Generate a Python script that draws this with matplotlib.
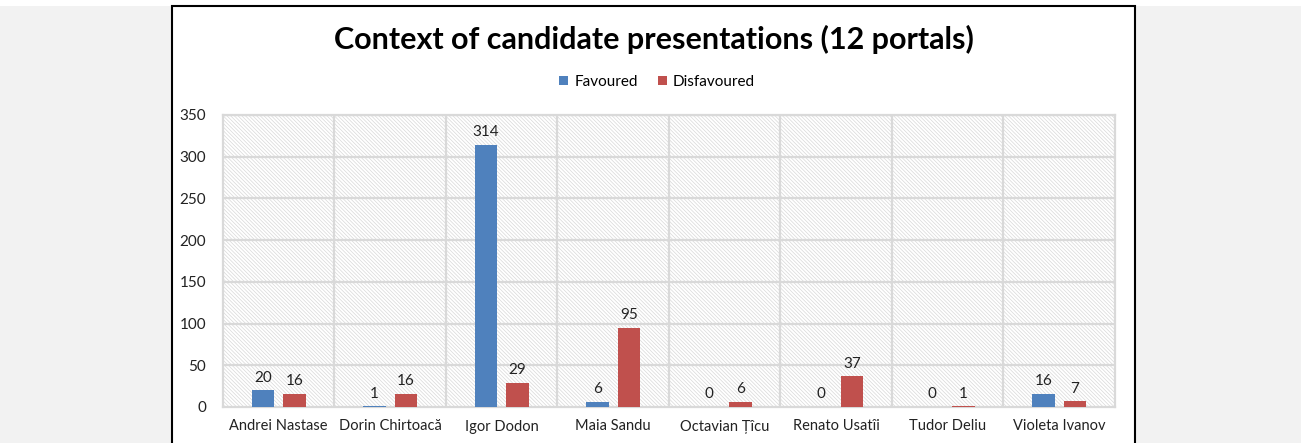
import matplotlib
matplotlib.use("Agg")
import matplotlib.pyplot as plt
import numpy as np
from matplotlib.patches import Rectangle

candidates = ["Andrei Nastase", "Dorin Chirtoacă", "Igor Dodon", "Maia Sandu",
              "Octavian Țîcu", "Renato Usatîi", "Tudor Deliu", "Violeta Ivanov"]
favoured = [20, 1, 314, 6, 0, 0, 0, 16]
disfavoured = [16, 16, 29, 95, 6, 37, 1, 7]
y_ticks = [0, 50, 100, 150, 200, 250, 300, 350]

BLUE = "#4f81bd"
RED = "#c0504d"
GRID = "#d9d9d9"

plt.rcParams["font.family"] = ["Lato", "DejaVu Sans"]
plt.rcParams["hatch.linewidth"] = 0.5

W, H = 1307, 443
fig = plt.figure(figsize=(W / 100, H / 100), dpi=100)
fig.patch.set_facecolor("white")

# grey page behind the chart box
fig.add_artist(Rectangle((0, 0), 1301 / W, 437 / H, transform=fig.transFigure,
                         facecolor="#f2f2f2", edgecolor="none", zorder=-3))
# chart box with black frame
fig.add_artist(Rectangle((172 / W, -0.05), (1135 - 172) / W, 1.05 - 6 / H,
                         transform=fig.transFigure, facecolor="white",
                         edgecolor="black", linewidth=1.5, zorder=-2))

ax = fig.add_axes([223 / W, 36 / H, 892 / W, 292 / H])
ax.set_facecolor("white")
ax.add_patch(Rectangle((0, 0), 1, 1, transform=ax.transAxes, facecolor="white",
                       edgecolor="#d8d8d8", hatch="\\" * 9, linewidth=0, zorder=0))

x = np.arange(len(candidates))
w = 0.2
off = 0.14
b1 = ax.bar(x - off, favoured, w, color=BLUE, label="Favoured", zorder=3)
b2 = ax.bar(x + off, disfavoured, w, color=RED, label="Disfavoured", zorder=3)
ax.bar_label(b1, padding=4, fontsize=11, color="#222222")
ax.bar_label(b2, padding=4, fontsize=11, color="#222222")

ax.set_xlim(-0.5, len(candidates) - 0.5)
ax.set_ylim(0, 350)
ax.set_yticks(y_ticks)
ax.set_xticks(x)
ax.set_xticklabels(candidates)
ax.tick_params(axis="both", length=0, labelsize=10.5, colors="#222222")
ax.tick_params(axis="y", labelsize=11, pad=12)
ax.tick_params(axis="x", pad=9)

for yv in y_ticks[1:]:
    ax.axhline(yv, color=GRID, linewidth=1.6, zorder=1)
for xv in np.arange(0.5, len(candidates) - 0.5, 1):
    ax.axvline(xv, color=GRID, linewidth=1.6, zorder=1)
for s in ax.spines.values():
    s.set_color(GRID)
    s.set_linewidth(1.6)

fig.text(654 / W, 1 - 39 / H, "Context of candidate presentations (12 portals)",
         ha="center", va="center", fontsize=22, fontweight="bold", color="black")
fig.legend(loc="center", bbox_to_anchor=(657 / W, 1 - 82 / H), ncol=2,
           frameon=False, fontsize=11, handlelength=0.6, handleheight=0.6,
           handletextpad=0.4, columnspacing=1.3)

fig.savefig("out.png", dpi=100)
